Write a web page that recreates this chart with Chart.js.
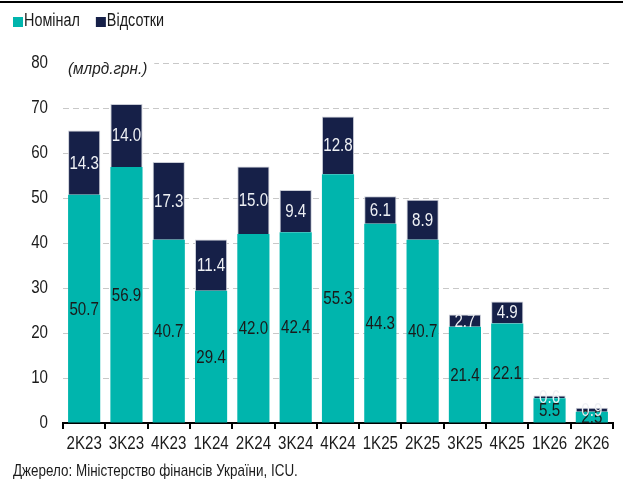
<!DOCTYPE html>
<html>
<head>
<meta charset="utf-8">
<script src="https://cdn.jsdelivr.net/npm/chart.js@4.4.1/dist/chart.umd.min.js"></script>
<style>
  html, body { margin: 0; padding: 0; background: #fff; }
  #wrap { position: relative; width: 628px; height: 484px; }
  #topline { position: absolute; left: 0; top: 1px; width: 623px; height: 2px; background: #000; z-index: 2; }
  canvas { display: block; }
</style>
</head>
<body>
<div id="wrap">
  <div id="topline"></div>
  <canvas id="c" width="628" height="484"></canvas>
</div>
<script>
const categories = ['2K23','3K23','4K23','1K24','2K24','3K24','4K24','1K25','2K25','3K25','4K25','1K26','2K26'];
const nominal = [50.7, 56.9, 40.7, 29.4, 42.0, 42.4, 55.3, 44.3, 40.7, 21.4, 22.1, 5.5, 2.5];
const interest = [14.3, 14.0, 17.3, 11.4, 15.0, 9.4, 12.8, 6.1, 8.9, 2.7, 4.9, 0.6, 0.9];
const seriesNames = ['Номінал', 'Відсотки'];
const yTicks = [0, 10, 20, 30, 40, 50, 60, 70, 80];
const unitLabel = '(млрд.грн.)';
const sourceText = 'Джерело: Міністерство фінансів України, ICU.';

const FONT = "'Liberation Sans', Arial, sans-serif";
const TEAL = '#00b5ad';
const NAVY = '#162048';
const seriesColors = [TEAL, NAVY];
const labelColors = ['#1a1a1a', '#eef0f4'];
const LEGEND_FONT = 18;
const LEGEND_PAD = 18;

// horizontal condensing to imitate the narrow face of the original
function condenseFor(t) {
  if (seriesNames.includes(t)) return 0.8;
  if (t === sourceText) return 0.79;
  if (t === unitLabel) return 0.9;
  return 0.84;
}

const condense = {
  id: 'condense',
  beforeInit(chart) {
    const ctx = chart.ctx;
    const ft = ctx.fillText;
    const mt = ctx.measureText;
    ctx.fillText = function (t, x, y) {
      const sx = condenseFor(String(t));
      this.save();
      this.translate(x, y);
      this.scale(sx, 1);
      ft.call(this, t, 0, 0);
      this.restore();
    };
    ctx.measureText = function (t) {
      const sx = condenseFor(String(t));
      const m = mt.call(this, t);
      return {
        width: m.width * sx,
        actualBoundingBoxAscent: m.actualBoundingBoxAscent,
        actualBoundingBoxDescent: m.actualBoundingBoxDescent,
        actualBoundingBoxLeft: m.actualBoundingBoxLeft * sx,
        actualBoundingBoxRight: m.actualBoundingBoxRight * sx
      };
    };
  }
};

const legendTweak = {
  id: 'legendTweak',
  beforeInit(chart) {
    const origFit = chart.legend.fit;
    chart.legend.fit = function () {
      origFit.bind(chart.legend)();
      this.height += 15;
    };
  },
  afterLayout(chart) {
    const lg = chart.legend;
    lg.left -= 16; lg.right -= 16;
    lg.top -= 8; lg.bottom -= 8;
  },
  afterDraw(chart) {
    const hb = chart.legend.legendHitBoxes || [];
    const ctx = chart.ctx;
    ctx.save();
    hb.forEach((b, i) => {
      const textX = b.left + LEGEND_FONT / 2;
      const cy = b.top + b.height / 2 + 1;
      ctx.fillStyle = seriesColors[i];
      ctx.fillRect(textX - 11, cy - 5, 10, 10);
    });
    ctx.restore();
  }
};

const unitPlugin = {
  id: 'unitPlugin',
  beforeDatasetsDraw(chart) {
    const ctx = chart.ctx;
    const y = chart.scales.y.getPixelForValue(80);
    const x0 = chart.chartArea.left;
    ctx.save();
    ctx.font = "italic 17px " + FONT;
    const w = ctx.measureText(unitLabel).width;
    ctx.fillStyle = '#fff';
    ctx.fillRect(x0, y - 4, w + 12, 8);
    ctx.fillStyle = '#222';
    ctx.textAlign = 'left';
    ctx.textBaseline = 'middle';
    ctx.fillText(unitLabel, x0 + 5, y + 6);
    ctx.restore();
  }
};

const barLabels = {
  id: 'barLabels',
  afterDatasetsDraw(chart) {
    const ctx = chart.ctx;
    ctx.save();
    ctx.font = "18px " + FONT;
    ctx.textAlign = 'center';
    ctx.textBaseline = 'middle';
    chart.data.datasets.forEach((ds, di) => {
      const meta = chart.getDatasetMeta(di);
      meta.data.forEach((bar, i) => {
        const v = ds.data[i];
        ctx.fillStyle = labelColors[di];
        ctx.fillText(v.toFixed(1), bar.x, (bar.y + bar.base) / 2 + 1);
      });
    });
    ctx.restore();
  }
};

new Chart(document.getElementById('c'), {
  type: 'bar',
  data: {
    labels: categories,
    datasets: [
      { label: seriesNames[0], data: nominal, backgroundColor: TEAL, borderWidth: 0,
        barPercentage: 0.76, categoryPercentage: 1.0 },
      { label: seriesNames[1], data: interest, backgroundColor: NAVY, borderColor: '#c9ccd6', borderWidth: 1,
        barPercentage: 0.76, categoryPercentage: 1.0 }
    ]
  },
  options: {
    responsive: false,
    animation: false,
    devicePixelRatio: 1,
    layout: { padding: { left: 13, right: 15, top: 2, bottom: 0 } },
    plugins: {
      legend: {
        position: 'top',
        align: 'start',
        labels: {
          boxWidth: 0, boxHeight: 10, padding: LEGEND_PAD,
          color: '#1a1a1a',
          font: { family: FONT, size: LEGEND_FONT },
          generateLabels(chart) {
            const items = Chart.defaults.plugins.legend.labels.generateLabels(chart);
            items.forEach(it => {
              it.fillStyle = 'rgba(0,0,0,0)';
              it.strokeStyle = 'rgba(0,0,0,0)';
              it.lineWidth = 0;
            });
            return items;
          }
        }
      },
      title: {
        display: true,
        text: sourceText,
        position: 'bottom',
        align: 'start',
        color: '#1a1a1a',
        font: { family: FONT, size: 17, weight: 'normal' },
        padding: { top: 3, bottom: 2 }
      },
      tooltip: { enabled: false }
    },
    scales: {
      x: {
        stacked: true,
        grid: { offset: true, drawOnChartArea: false, drawTicks: true, tickLength: 6, color: '#000', lineWidth: 2 },
        border: { display: true, color: '#000', width: 2 },
        ticks: { color: '#1a1a1a', font: { family: FONT, size: 18 }, padding: 4, maxRotation: 0, autoSkip: false }
      },
      y: {
        stacked: true,
        min: 0, max: 80,
        afterFit(scale) { scale.width = 50; },
        afterBuildTicks(scale) { scale.ticks = yTicks.map(v => ({ value: v })); },
        grid: { drawTicks: false, color: '#c8c8c8', lineWidth: 1 },
        border: { display: false, dash: [6, 4] },
        ticks: { color: '#1a1a1a', font: { family: FONT, size: 18 }, padding: 15 }
      }
    }
  },
  plugins: [condense, legendTweak, unitPlugin, barLabels]
});
</script>
</body>
</html>
